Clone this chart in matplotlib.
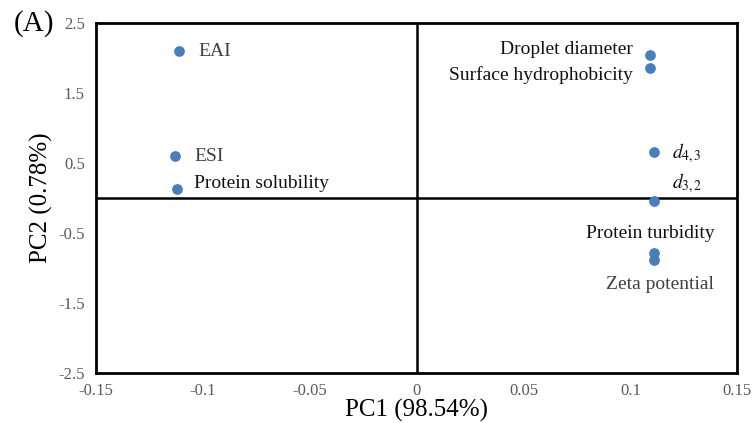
import matplotlib
matplotlib.use("Agg")
import matplotlib.pyplot as plt

plt.rcParams["font.family"] = ["Liberation Serif", "DejaVu Serif"]
plt.rcParams["mathtext.fontset"] = "stix"

# loadings
nomes = ["EAI", "ESI", "Protein solubility", "Droplet diameter",
         "Surface hydrophobicity", r"$d_{\mathrm{4,3}}$", r"$d_{\mathrm{3,2}}$",
         "Protein turbidity", "Zeta potential"]
pc1 = [-0.111, -0.113, -0.112, 0.109, 0.109, 0.111, 0.111, 0.111, 0.111]
pc2 = [2.10, 0.60, 0.13, 2.04, 1.86, 0.66, -0.04, -0.78, -0.88]

xticks = [-0.15, -0.1, -0.05, 0, 0.05, 0.1, 0.15]
xtick_labels = ["-0.15", "-0.1", "-0.05", "0", "0.05", "0.1", "0.15"]
yticks = [2.5, 1.5, 0.5, -0.5, -1.5, -2.5]
ytick_labels = ["2.5", "1.5", "0.5", "-0.5", "-1.5", "-2.5"]

# label placement (offset in points, alignment, colour)
estilos = [
    ((14, 0), "left", "#404040"),
    ((14, 0), "left", "#404040"),
    ((12, 4), "left", "#111111"),
    ((-12, 4), "right", "#111111"),
    ((-12, -5), "right", "#111111"),
    ((13, -1), "left", "#111111"),
    ((13, 13), "left", "#111111"),
    ((44, 14), "right", "#111111"),
    ((43, -18), "right", "#404040"),
]

fig = plt.figure(figsize=(7.52, 4.23), dpi=100)
ax = fig.add_axes([0.1277, 0.1182, 0.8527, 0.8274])

ax.scatter(pc1, pc2, s=45, color="#4a7ebb", zorder=3)
for nome, x, y, (off, ha, cor) in zip(nomes, pc1, pc2, estilos):
    ax.annotate(nome, (x, y), xytext=off, textcoords="offset points",
                ha=ha, va="center", fontsize=14, color=cor)

ax.axhline(0, color="black", lw=1.8, zorder=1)
ax.axvline(0, color="black", lw=1.8, zorder=1)

ax.set_xlim(-0.15, 0.15)
ax.set_ylim(-2.5, 2.5)
ax.set_xticks(xticks)
ax.set_xticklabels(xtick_labels)
ax.set_yticks(yticks)
ax.set_yticklabels(ytick_labels)
ax.tick_params(length=0, labelsize=12, labelcolor="#595959")
ax.tick_params(axis="x", pad=7)
ax.tick_params(axis="y", pad=8)
for s in ax.spines.values():
    s.set_linewidth(2)
    s.set_color("black")

ax.set_xlabel("PC1 (98.54%)", fontsize=18, labelpad=0)
ax.set_ylabel("PC2 (0.78%)", fontsize=18, labelpad=4)
fig.text(0.018, 0.945, "(A)", fontsize=21, va="center")

fig.savefig("out.png", dpi=100)
